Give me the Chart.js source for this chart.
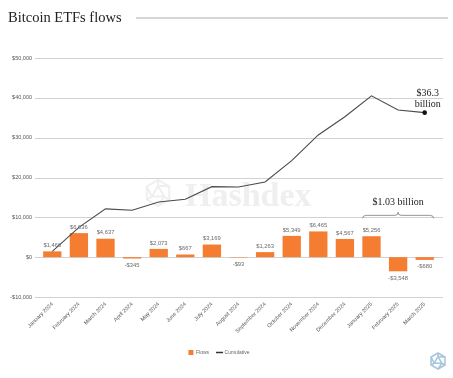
<!DOCTYPE html>
<html>
<head>
<meta charset="utf-8">
<script src="https://cdn.jsdelivr.net/npm/chart.js@4/dist/chart.umd.min.js"></script>
<style>
html,body{margin:0;padding:0;background:#fff;}
#wrap{position:relative;width:453px;height:378px;}
</style>
</head>
<body>
<div id="wrap"><canvas id="c" width="453" height="378"></canvas></div>
<script>
const months = ["January 2024","February 2024","March 2024","April 2024","May 2024","June 2024","July 2024","August 2024","September 2024","October 2024","November 2024","December 2024","January 2025","February 2025","March 2025"];
const flows = [1460, 6036, 4637, -345, 2073, 667, 3169, -93, 1263, 5349, 6465, 4567, 5256, -3548, -680];
const cumulative = [1460, 7496, 12133, 11788, 13861, 14528, 17697, 17604, 18867, 24216, 30681, 35248, 40504, 36956, 36276];
const yTicks = [-10000, 0, 10000, 20000, 30000, 40000, 50000];
const titleText = "Bitcoin ETFs flows";
const totalLabel = ["$36.3", "billion"];
const periodLabel = "$1.03 billion";
const periodRange = [12, 14];

function money(v){
  const s = Math.abs(v).toLocaleString('en-US');
  return (v < 0 ? '-$' : '$') + s;
}

const SANS = "Arial, 'Liberation Sans', sans-serif";
const SERIF = "'Liberation Serif', 'DejaVu Serif', serif";

function hexIcon(ctx, cx, cy, r, color, lw){
  ctx.save();
  ctx.strokeStyle = color; ctx.lineWidth = lw;
  const pts = [];
  for(let i=0;i<6;i++){ const a = Math.PI/6 + i*Math.PI/3; pts.push([cx + r*Math.cos(a), cy + r*Math.sin(a)]); }
  ctx.beginPath();
  pts.forEach((p,i)=> i? ctx.lineTo(p[0],p[1]) : ctx.moveTo(p[0],p[1]));
  ctx.closePath(); ctx.stroke();
  const ir = r*0.55;
  const tri = [];
  for(let i=0;i<3;i++){ const a = -Math.PI/2 + i*2*Math.PI/3; tri.push([cx + ir*Math.cos(a), cy + ir*Math.sin(a)]); }
  ctx.beginPath();
  tri.forEach((p,i)=> i? ctx.lineTo(p[0],p[1]) : ctx.moveTo(p[0],p[1]));
  ctx.closePath(); ctx.stroke();
  ctx.beginPath();
  for(let i=0;i<6;i++){
    const t = tri[Math.floor(i/2)];
    ctx.moveTo(t[0],t[1]); ctx.lineTo(pts[(i+4)%6][0], pts[(i+4)%6][1]);
  }
  ctx.stroke();
  ctx.restore();
}

const decor = {
  id: 'decor',
  beforeDraw(chart){
    const ctx = chart.ctx;
    ctx.save();
    ctx.fillStyle = '#fff';
    ctx.fillRect(0,0,chart.width,chart.height);
    ctx.fillStyle = '#222';
    ctx.font = "14.5px " + SERIF;
    ctx.textBaseline = 'alphabetic';
    ctx.textAlign = 'left';
    ctx.fillText(titleText, 8, 22);
    ctx.strokeStyle = '#c8c8c8'; ctx.lineWidth = 1.5;
    ctx.beginPath(); ctx.moveTo(136, 18); ctx.lineTo(448, 18); ctx.stroke();
    const y = chart.scales.y;
    ctx.strokeStyle = '#d2d2d2'; ctx.lineWidth = 1;
    yTicks.forEach(v=>{
      const py = Math.round(y.getPixelForValue(v)) + 0.5;
      ctx.beginPath(); ctx.moveTo(35, py); ctx.lineTo(443, py); ctx.stroke();
    });
    ctx.fillStyle = '#efefef';
    ctx.font = "bold 34px " + SERIF;
    ctx.textAlign = 'left';
    ctx.fillText('Hashdex', 185, 206);
    hexIcon(ctx, 158, 193, 13, '#efefef', 2);
    hexIcon(ctx, 438, 361, 8, '#a7c6dc', 1.6);
    ctx.restore();
  },
  afterDatasetsDraw(chart){
    const ctx = chart.ctx;
    const meta = chart.getDatasetMeta(0);
    ctx.save();
    ctx.font = "5.8px " + SANS;
    ctx.fillStyle = '#6a6a6a';
    ctx.textAlign = 'center';
    meta.data.forEach((bar, i)=>{
      const v = flows[i];
      if (v >= 0){ ctx.textBaseline = 'bottom'; ctx.fillText(money(v), bar.x, bar.y - 3); }
      else { ctx.textBaseline = 'top'; ctx.fillText(money(v), bar.x, bar.y + 4); }
    });
    const lm = chart.getDatasetMeta(1);
    const last = lm.data[lm.data.length-1];
    ctx.font = "10px " + SERIF;
    ctx.fillStyle = '#222';
    ctx.textBaseline = 'alphabetic';
    ctx.fillText(totalLabel[0], last.x + 3, last.y - 17);
    ctx.fillText(totalLabel[1], last.x + 3, last.y - 6);
    const x = chart.scales.x;
    const x0 = x.getPixelForValue(periodRange[0]) - 9;
    const x1 = x.getPixelForValue(periodRange[1]) + 9;
    const xm = (x0 + x1)/2;
    const by = chart.scales.y.getPixelForValue(10000) - 2;
    ctx.strokeStyle = '#777'; ctx.lineWidth = 0.8;
    ctx.beginPath();
    ctx.moveTo(x0, by + 3);
    ctx.quadraticCurveTo(x0, by, x0 + 4, by);
    ctx.lineTo(xm - 3, by);
    ctx.quadraticCurveTo(xm, by, xm, by - 3);
    ctx.quadraticCurveTo(xm, by, xm + 3, by);
    ctx.lineTo(x1 - 4, by);
    ctx.quadraticCurveTo(x1, by, x1, by + 3);
    ctx.stroke();
    ctx.fillStyle = '#222';
    ctx.font = "10px " + SERIF;
    ctx.fillText(periodLabel, xm, by - 10);
    ctx.restore();
  }
};

const ctx = document.getElementById('c').getContext('2d');
new Chart(ctx, {
  type: 'bar',
  data: {
    labels: months,
    datasets: [
      {
        type: 'bar', label: 'Flows', data: flows,
        backgroundColor: '#f47d31', borderWidth: 0,
        categoryPercentage: 0.85, barPercentage: 0.81, order: 2
      },
      {
        type: 'line', label: 'Cumulative', data: cumulative,
        borderColor: '#4a4a4a', backgroundColor: '#222', borderWidth: 1.1,
        pointRadius: cumulative.map((v,i)=> i === cumulative.length-1 ? 2.3 : 0),
        pointBackgroundColor: '#111', pointBorderWidth: 0,
        tension: 0, order: 1
      }
    ]
  },
  options: {
    responsive: false,
    animation: false,
    devicePixelRatio: 1,
    layout: { padding: { top: 58, left: 0, right: 15, bottom: 13 } },
    plugins: {
      tooltip: { enabled: false },
      legend: {
        position: 'bottom',
        labels: {
          font: { size: 5, family: SANS },
          color: '#666',
          usePointStyle: true,
          boxWidth: 5, boxHeight: 5,
          padding: 8,
          generateLabels(chart){
            return [
              { text: 'Flows', fillStyle: '#f47d31', strokeStyle: '#f47d31', lineWidth: 0, pointStyle: 'rect', datasetIndex: 0, fontColor: '#666' },
              { text: 'Cumulative', fillStyle: '#333', strokeStyle: '#333', lineWidth: 1.5, pointStyle: 'line', datasetIndex: 1, fontColor: '#666' }
            ];
          }
        }
      }
    },
    scales: {
      x: {
        grid: { display: false, drawTicks: false },
        border: { display: false },
        ticks: { font: { size: 5.5, family: SANS }, color: '#555', minRotation: 45, maxRotation: 45, padding: 4, autoSkip: false },
        afterFit(s){ s.height = 45; }
      },
      y: {
        min: -10000, max: 50000,
        afterBuildTicks(s){ s.ticks = yTicks.map(v=>({value:v})); },
        grid: { display: false, drawTicks: false },
        border: { display: false },
        ticks: { font: { size: 5.5, family: SANS }, color: '#555', padding: 7, callback: v => money(v) },
        afterFit(s){ s.width = 39; }
      }
    }
  },
  plugins: [decor]
});
</script>
</body>
</html>
